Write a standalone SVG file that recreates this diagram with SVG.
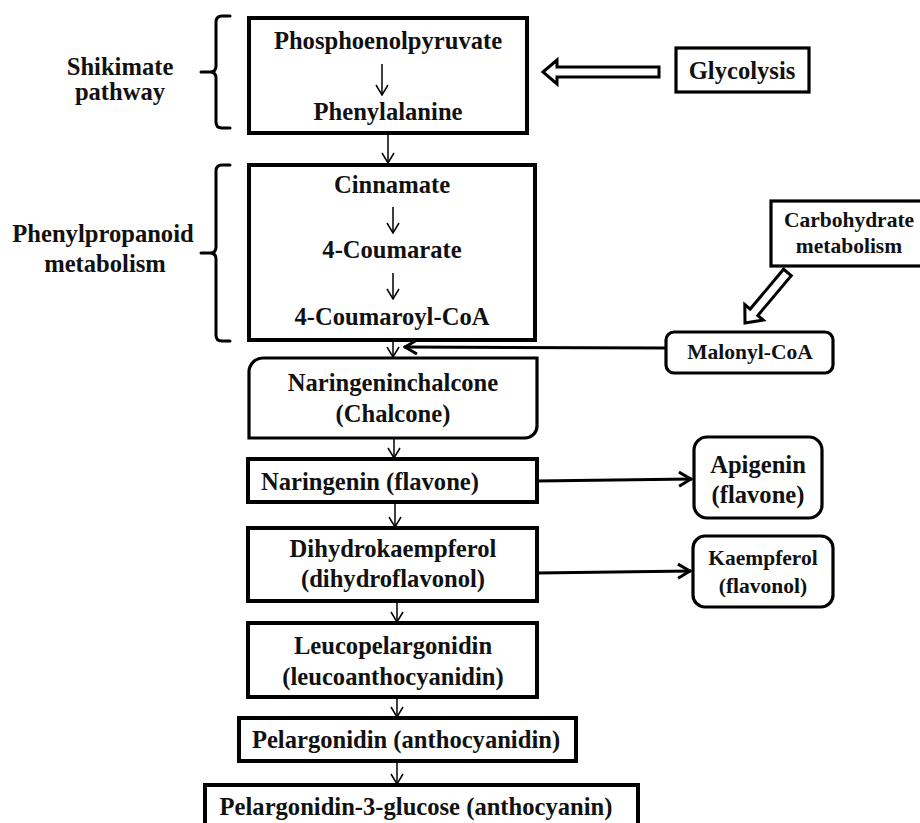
<svg xmlns="http://www.w3.org/2000/svg" width="920" height="823" viewBox="0 0 920 823">
<defs>
<style>
.box{fill:#fff;stroke:#000;stroke-width:4}
.sbox{fill:#fff;stroke:#000;stroke-width:3.2}
.t{font-family:"Liberation Serif","Times New Roman",serif;font-weight:bold;font-size:24.6px;text-anchor:middle;fill:#111}
.s{font-size:21.5px}
.thin{stroke:#000;stroke-width:1.5;fill:none}
.thick{stroke:#000;stroke-width:3;fill:none}
.brace{stroke:#000;stroke-width:3;fill:none;stroke-linecap:round}
.hollow{fill:#fff;stroke:#000;stroke-width:3;stroke-linejoin:miter}
</style>
<marker id="ah" viewBox="0 0 12 14" refX="11" refY="7" markerWidth="12" markerHeight="14" markerUnits="userSpaceOnUse" orient="auto">
<path d="M1,1 L11,7 L1,13" fill="none" stroke="#000" stroke-width="1.5"/>
</marker>
<marker id="ahb" viewBox="0 0 16 18" refX="15" refY="9" markerWidth="16" markerHeight="18" markerUnits="userSpaceOnUse" orient="auto">
<path d="M2,2 L14,9 L2,16" fill="none" stroke="#000" stroke-width="3"/>
</marker>
</defs>
<rect width="920" height="823" fill="#fff"/>

<g id="label-shikimate">
<path class="brace" d="M230,16 H222 Q216,16 216,22 V66 Q216,72 210,72 H201 M210,72 Q216,72 216,78 V122 Q216,128 222,128 H230"/>
<text class="t" x="120" y="75">Shikimate</text>
<text class="t" x="120" y="100">pathway</text>
</g>
<g id="label-phenylpropanoid">
<path class="brace" d="M230,165 H222 Q216,165 216,171 V247 Q216,253 210,253 H201 M210,253 Q216,253 216,259 V335 Q216,341 222,341 H230"/>
<text class="t" x="103" y="242">Phenylpropanoid</text>
<text class="t" x="105" y="272">metabolism</text>
</g>

<g id="connectors">
<line class="thin" x1="388" y1="135" x2="388" y2="163" marker-end="url(#ah)"/>
<line class="thin" x1="393" y1="332" x2="393" y2="357" marker-end="url(#ah)"/>
<line class="thin" x1="394" y1="439" x2="394" y2="458" marker-end="url(#ah)"/>
<line class="thin" x1="395" y1="503" x2="395" y2="527" marker-end="url(#ah)"/>
<line class="thin" x1="397" y1="602" x2="397" y2="622" marker-end="url(#ah)"/>
<line class="thin" x1="397" y1="698" x2="397" y2="717" marker-end="url(#ah)"/>
<line class="thin" x1="397" y1="762" x2="397" y2="784" marker-end="url(#ah)"/>
<line class="thick" x1="666" y1="348" x2="404" y2="347" stroke-width="2.5" marker-end="url(#ahb)"/>
<line class="thick" x1="537" y1="481" x2="692" y2="479" marker-end="url(#ahb)"/>
<line class="thick" x1="537" y1="573" x2="691" y2="571" marker-end="url(#ahb)"/>
<polygon class="hollow" points="543,72 557,60 557,67 659,67 659,77 557,77 557,84"/>
<polygon class="hollow" transform="translate(745,323) rotate(130)" points="0,0 -14,-12 -14,-5 -66,-5 -66,5 -14,5 -14,12"/>
</g>

<g id="n-pep">
<rect class="box" x="249" y="18" width="278" height="115"/>
<text class="t" x="388" y="49">Phosphoenolpyruvate</text>
<line class="thin" x1="382" y1="64" x2="382" y2="95" marker-end="url(#ah)"/>
<text class="t" x="388" y="120">Phenylalanine</text>
</g>
<g id="n-glycolysis">
<rect class="sbox" x="676" y="48" width="133" height="44"/>
<text class="t" x="742" y="79">Glycolysis</text>
</g>
<g id="n-cinnamate">
<rect class="box" x="249" y="165" width="286" height="175"/>
<text class="t" x="392" y="193">Cinnamate</text>
<line class="thin" x1="393" y1="207" x2="393" y2="233" marker-end="url(#ah)"/>
<text class="t" x="392" y="258">4-Coumarate</text>
<line class="thin" x1="393" y1="273" x2="393" y2="299" marker-end="url(#ah)"/>
<text class="t" x="392" y="325">4-Coumaroyl-CoA</text>
</g>
<g id="n-carbohydrate">
<rect class="sbox" x="771" y="201" width="160" height="65"/>
<text class="t s" x="849" y="227">Carbohydrate</text>
<text class="t s" x="849" y="253">metabolism</text>
</g>
<g id="n-malonyl">
<rect class="sbox" x="666" y="332" width="167" height="41" rx="8"/>
<text class="t s" x="750" y="359">Malonyl-CoA</text>
</g>
<g id="n-chalcone">
<path class="sbox" stroke-width="3.5" d="M249,438 V372 A14,14 0 0 1 263,358 H537 V426 A12,12 0 0 1 525,438 Z"/>
<text class="t" x="393" y="391">Naringeninchalcone</text>
<text class="t" x="393" y="422">(Chalcone)</text>
</g>
<g id="n-naringenin">
<rect class="box" x="248" y="459" width="289" height="43"/>
<text class="t" x="370" y="490">Naringenin (flavone)</text>
</g>
<g id="n-apigenin">
<rect class="sbox" x="694" y="437" width="128" height="81" rx="13"/>
<text class="t" x="758" y="473">Apigenin</text>
<text class="t" x="758" y="503">(flavone)</text>
</g>
<g id="n-dihydrokaempferol">
<rect class="box" x="248" y="528" width="289" height="73"/>
<text class="t" x="393" y="557">Dihydrokaempferol</text>
<text class="t" x="393" y="587">(dihydroflavonol)</text>
</g>
<g id="n-kaempferol">
<rect class="sbox" x="693" y="536" width="140" height="71" rx="12"/>
<text class="t s" x="763" y="565">Kaempferol</text>
<text class="t s" x="763" y="593">(flavonol)</text>
</g>
<g id="n-leucopelargonidin">
<rect class="box" x="248" y="623" width="289" height="74"/>
<text class="t" x="393" y="654">Leucopelargonidin</text>
<text class="t" x="393" y="685">(leucoanthocyanidin)</text>
</g>
<g id="n-pelargonidin">
<rect class="box" x="239" y="718" width="337" height="43"/>
<text class="t" x="406" y="748">Pelargonidin (anthocyanidin)</text>
</g>
<g id="n-p3g">
<rect class="box" x="205" y="785" width="433" height="60"/>
<text class="t" x="416" y="815">Pelargonidin-3-glucose (anthocyanin)</text>
</g>
</svg>
